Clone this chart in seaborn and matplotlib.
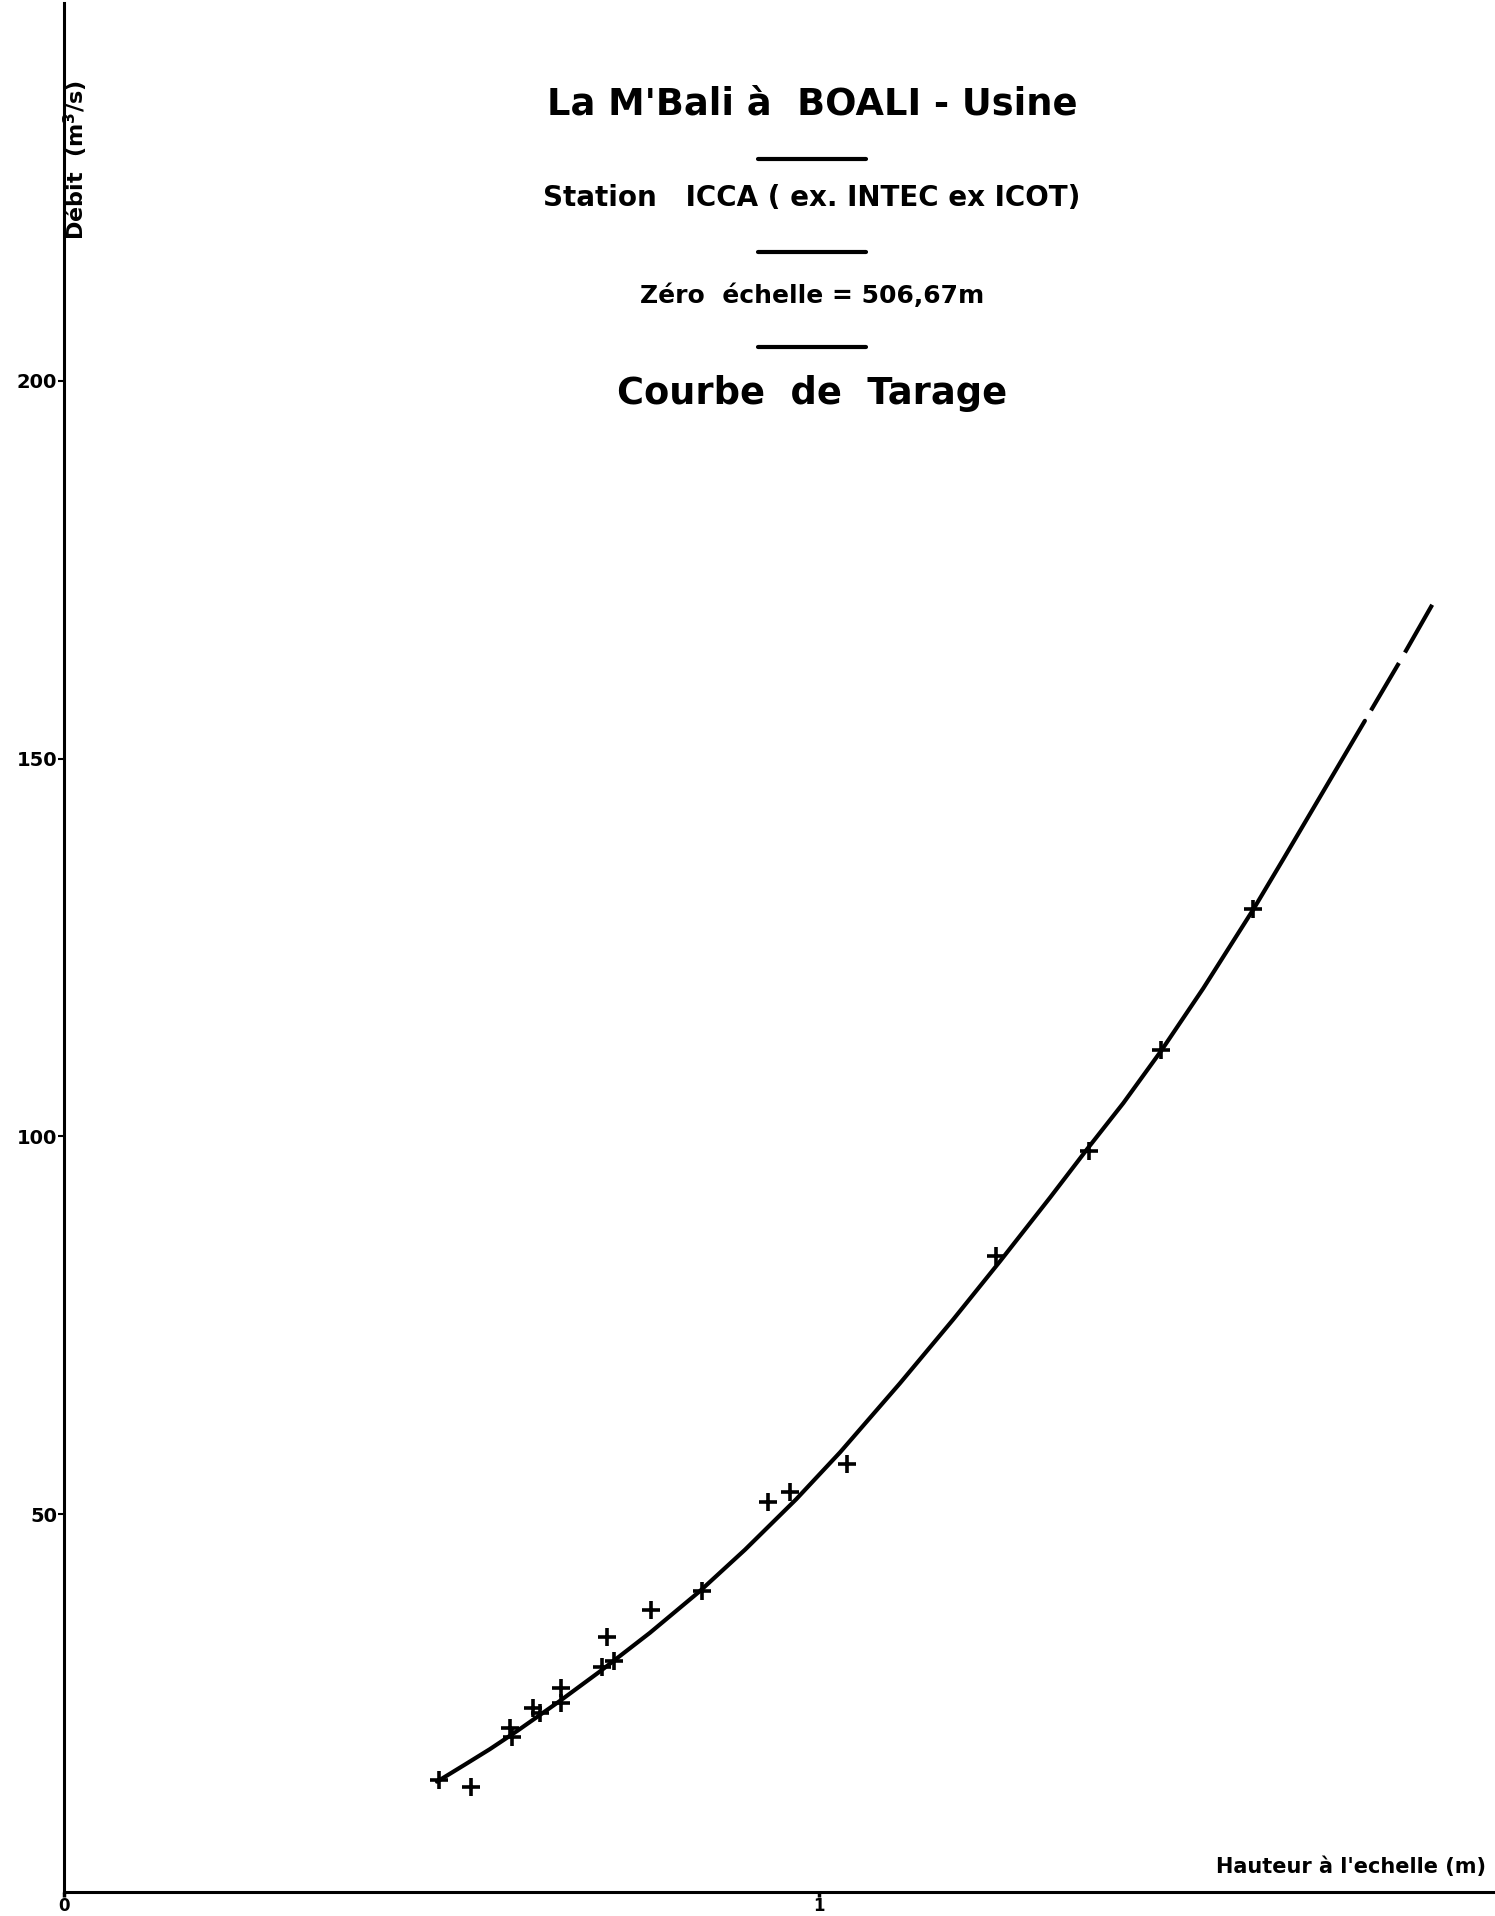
import matplotlib
matplotlib.use("Agg")
import matplotlib.pyplot as plt
from matplotlib.lines import Line2D
import seaborn as sns
import pandas as pd

# gaugings (hauteur m, debit m3/s)
hauteur = [0.497, 0.539, 0.591, 0.594, 0.621, 0.630, 0.658, 0.658, 0.712, 0.719,
           0.729, 0.778, 0.845, 0.933, 0.962, 1.037, 1.235, 1.358, 1.453, 1.575]
debit = [14.8, 13.9, 21.7, 20.5, 24.3, 23.7, 27.0, 25.0, 29.8, 33.7,
         30.6, 37.3, 39.9, 51.6, 52.9, 56.7, 84.2, 98.1, 111.4, 130.1]

# rating curve traced by hand (solid part)
courbe_h = [0.494, 0.530, 0.564, 0.600, 0.657, 0.710, 0.776, 0.842, 0.902, 0.970,
            1.028, 1.107, 1.178, 1.240, 1.306, 1.355, 1.403, 1.453, 1.509, 1.575,
            1.615, 1.664, 1.723]
courbe_q = [14.6, 16.8, 18.9, 21.3, 25.3, 29.2, 34.3, 39.8, 45.3, 52.0,
            58.2, 67.3, 75.8, 83.5, 91.9, 98.3, 104.4, 111.3, 119.6, 130.0,
            136.7, 145.0, 155.0]
# extrapolated part (dashed)
extra_h = [1.723, 1.769, 1.813]
extra_q = [155.0, 162.8, 170.5]

y_ticks = [50, 100, 150, 200]
x_ticks = [0, 1]

titres = ["La M'Bali à  BOALI - Usine",
          "Station   ICCA ( ex. INTEC ex ICOT)",
          "Zéro  échelle = 506,67m",
          "Courbe  de  Tarage"]

df_pts = pd.DataFrame({"h": hauteur, "q": debit})
df_c = pd.DataFrame({"h": courbe_h, "q": courbe_q})
df_e = pd.DataFrame({"h": extra_h, "q": extra_q})

sns.set_style("ticks")
plt.rcParams["font.family"] = ["DejaVu Sans"]
plt.rcParams["font.weight"] = "bold"
for key in ["text.color", "axes.labelcolor", "xtick.color", "ytick.color", "axes.edgecolor"]:
    plt.rcParams[key] = "black"

W, H = 1495, 1916
fig = plt.figure(figsize=(W / 100, H / 100), dpi=100)
fig.patch.set_facecolor("white")
ax = fig.add_axes([64 / W, 24 / H, (W - 64) / W, 1889 / H])
ax.set_facecolor("white")

sns.lineplot(data=df_c, x="h", y="q", ax=ax, color="black", linewidth=3, sort=False)
sns.lineplot(data=df_e, x="h", y="q", ax=ax, color="black", linewidth=3, sort=False)
ax.lines[-1].set_linestyle((13.2, (13.2, 2.9)))
sns.scatterplot(data=df_pts, x="h", y="q", ax=ax, marker="+", s=170,
                color="black", linewidth=2.6, zorder=5)

ax.set_xlim(0, (W - 64) / 755)
ax.set_ylim(0, 250)
ax.set_xticks(x_ticks)
ax.set_xticklabels(["0", "1"], fontsize=12, fontweight="bold")
ax.set_yticks(y_ticks)
ax.set_yticklabels([str(v) for v in y_ticks], fontsize=14, fontweight="bold")
ax.tick_params(axis="y", length=4, width=1.5, pad=1)
ax.tick_params(axis="x", length=3.5, width=2.5, pad=0)
ax.set_xlabel("")
ax.set_ylabel("")
sns.despine(ax=ax)
for side in ["left", "bottom"]:
    ax.spines[side].set_linewidth(2.2)

ax.text(0.994, 25 / 1889, "Hauteur à l'echelle (m)", transform=ax.transAxes,
        ha="right", va="center", fontsize=15, fontweight="bold")
fig.text(76 / W, 1 - 160 / H, "Débit  (m$^3$/s)", rotation=90, ha="center",
         va="center", fontsize=16, fontweight="bold")

# title block
cx = 812 / W
fig.text(cx, 1 - 104 / H, titres[0], ha="center", va="center", fontsize=26.5, fontweight="bold")
fig.text(cx, 1 - 198 / H, titres[1], ha="center", va="center", fontsize=20, fontweight="bold")
fig.text(cx, 1 - 296 / H, titres[2], ha="center", va="center", fontsize=18, fontweight="bold")
fig.text(cx, 1 - 394 / H, titres[3], ha="center", va="center", fontsize=26.5, fontweight="bold")
for yy in [159, 252, 347]:
    fig.add_artist(Line2D([758 / W, 866 / W], [1 - yy / H, 1 - yy / H],
                          color="black", linewidth=3))

fig.savefig("out.png", dpi=100, facecolor="white")
